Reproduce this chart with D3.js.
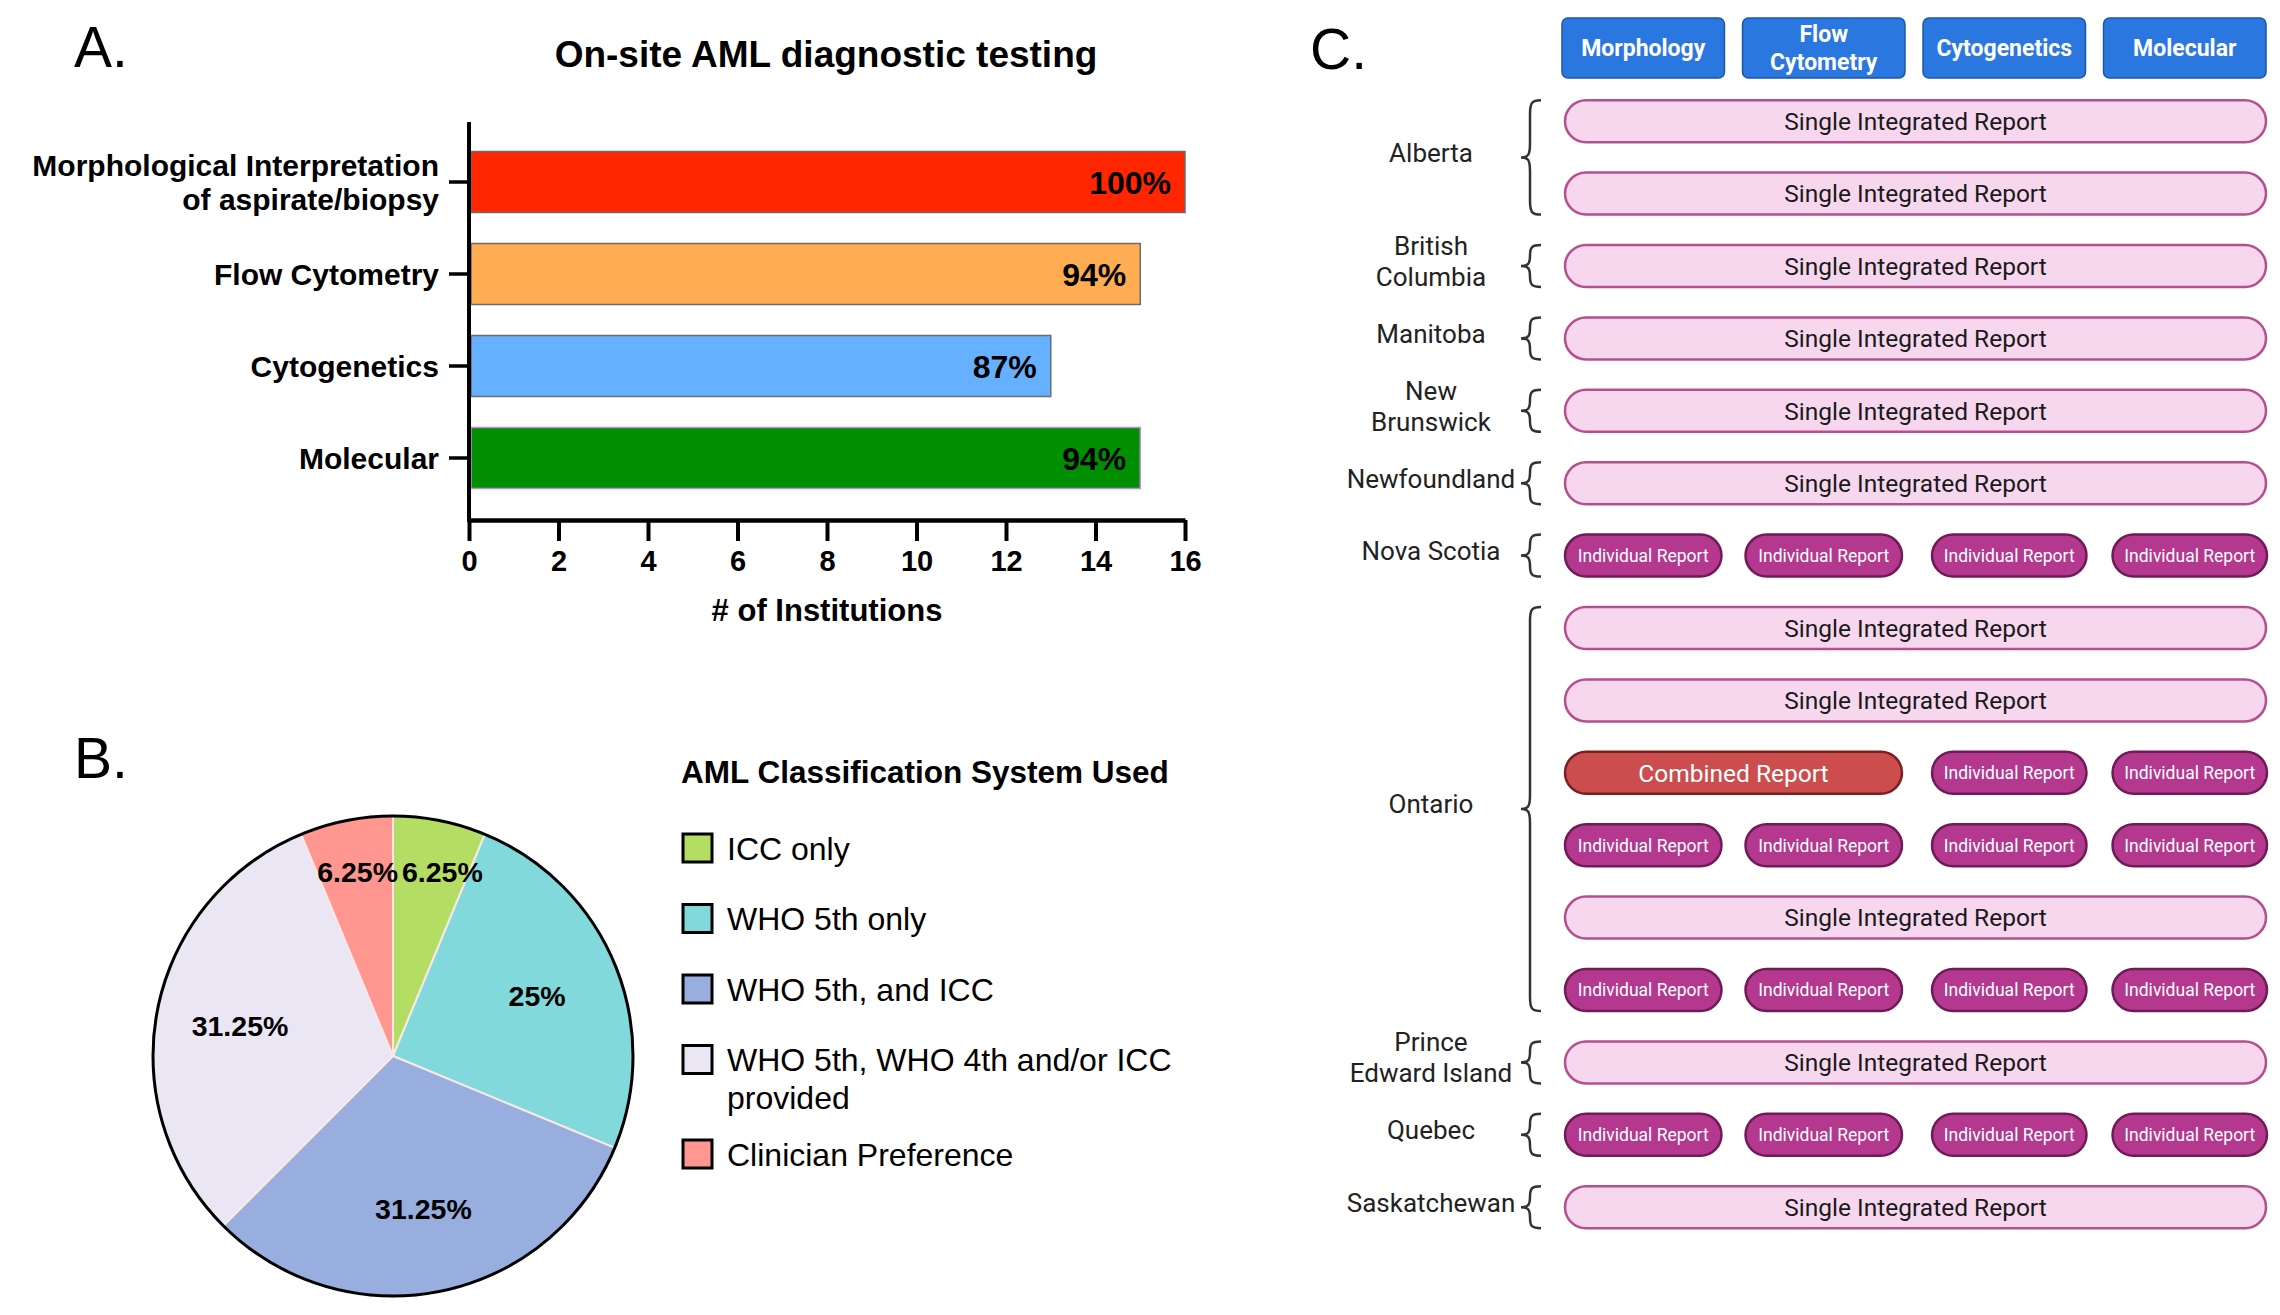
<!DOCTYPE html>
<html>
<head>
<meta charset="utf-8">
<script src="https://cdn.jsdelivr.net/npm/d3@7"></script>
<style>
  body { margin: 0; background: #fff; }
  svg { display: block; }
</style>
</head>
<body>
<div id="figure"></div>
<script>
// Panel A data
const categories = [
  "Morphological Interpretation\nof aspirate/biopsy",
  "Flow Cytometry",
  "Cytogenetics",
  "Molecular",
];
const institutions = [16, 15, 13, 15];
const pctLabels = ["100%", "94%", "87%", "94%"];
const xTicks = [0, 2, 4, 6, 8, 10, 12, 14, 16];

// Panel B data
const classes = [
  "ICC only",
  "WHO 5th only",
  "WHO 5th, and ICC",
  "WHO 5th, WHO 4th and/or ICC\nprovided",
  "Clinician Preference",
];
const classShares = [6.25, 25, 31.25, 31.25, 6.25];

// Panel C data
const labTests = ["Morphology", "Flow\nCytometry", "Cytogenetics", "Molecular"];
const provinces = [
  "Alberta",
  "British\nColumbia",
  "Manitoba",
  "New\nBrunswick",
  "Newfoundland",
  "Nova Scotia",
  "Ontario",
  "Prince\nEdward Island",
  "Quebec",
  "Saskatchewan",
];
const provinceReports = [
  ["single", "single"],
  ["single"],
  ["single"],
  ["single"],
  ["single"],
  ["individual"],
  ["single", "single", "combined", "individual", "single", "individual"],
  ["single"],
  ["individual"],
  ["single"],
];

// Colours
const BAR_COLORS = ["#FF2600", "#FFAC52", "#66B1FF", "#008F00"];
const BAR_STROKES = ["#6b6b6b", "#6b6b6b", "#6b6b6b", "#c08bda"];
const PIE_COLORS = ["#B4DD63", "#82D9DB", "#98AEDE", "#EAE6F3", "#FF968F"];

const WIDTH = 2280;
const HEIGHT = 1315;
const SANS = "'Liberation Sans', Arial, Helvetica, sans-serif";
const ROBOTO = "Roboto, 'Noto Sans', sans-serif";

const svg = d3
  .select("#figure")
  .append("svg")
  .attr("width", WIDTH)
  .attr("height", HEIGHT)
  .style("background", "#fff");

// writes multi-line text, lines split on \n, centred on cy (cap centre)
function multiText(g, str, x, cy, size, lineH, anchor) {
  const lines = str.split("\n");
  const t = g
    .append("text")
    .attr("text-anchor", anchor)
    .attr("font-size", size);
  const first = cy - ((lines.length - 1) * lineH) / 2 + 0.36 * size;
  lines.forEach((l, i) => {
    t.append("tspan")
      .attr("x", x)
      .attr("y", first + i * lineH)
      .text(l);
  });
  return t;
}

// Panel letters
[
  ["A.", 74, 67],
  ["B.", 74, 778],
  ["C.", 1310, 69],
].forEach(([s, x, y]) => {
  svg
    .append("text")
    .attr("x", x)
    .attr("y", y)
    .attr("font-family", SANS)
    .attr("font-size", 57)
    .attr("fill", "#000")
    .text(s);
});

/* ---------- Panel A: bar chart ---------- */
const gA = svg.append("g").attr("font-family", SANS);

const x = d3.scaleLinear().domain([0, 16]).range([469, 1185]);
const y = d3
  .scaleBand()
  .domain(categories)
  .range([136, 504])
  .paddingInner(0.337)
  .paddingOuter(0.1685);

gA.append("text")
  .attr("x", 826)
  .attr("y", 67)
  .attr("text-anchor", "middle")
  .attr("font-size", 37)
  .attr("font-weight", "bold")
  .text("On-site AML diagnostic testing");

gA.selectAll(".bar")
  .data(categories)
  .enter()
  .append("rect")
  .attr("class", "bar")
  .attr("x", x(0) + 2)
  .attr("y", (d) => y(d))
  .attr("width", (d, i) => x(institutions[i]) - x(0) - 2)
  .attr("height", y.bandwidth())
  .attr("fill", (d, i) => BAR_COLORS[i])
  .attr("stroke", (d, i) => BAR_STROKES[i])
  .attr("stroke-width", 1.5);

gA.selectAll(".pct")
  .data(categories)
  .enter()
  .append("text")
  .attr("class", "pct")
  .attr("x", (d, i) => x(institutions[i]) - 14)
  .attr("y", (d) => y(d) + y.bandwidth() / 2 + 11.5)
  .attr("text-anchor", "end")
  .attr("font-size", 32)
  .attr("font-weight", "bold")
  .text((d, i) => pctLabels[i]);

// y axis (ticks only, line drawn by hand so it runs past the bands)
const yAxis = gA
  .append("g")
  .attr("transform", "translate(" + x(0) + ",0)")
  .call(d3.axisLeft(y).tickSize(20).tickSizeOuter(0).tickFormat(""));
yAxis.select(".domain").remove();
yAxis.selectAll(".tick line").attr("stroke", "#000").attr("stroke-width", 3.5);

gA.append("line")
  .attr("x1", x(0))
  .attr("x2", x(0))
  .attr("y1", 122)
  .attr("y2", 522)
  .attr("stroke", "#000")
  .attr("stroke-width", 4);

categories.forEach((c) => {
  multiText(gA, c, 439, y(c) + y.bandwidth() / 2, 30, 34, "end").attr(
    "font-weight",
    "bold"
  );
});

// x axis
const xAxis = gA
  .append("g")
  .attr("transform", "translate(0,520)")
  .call(d3.axisBottom(x).tickValues(xTicks).tickSize(21).tickSizeOuter(0));
xAxis.select(".domain").attr("stroke", "#000").attr("stroke-width", 4.5);
xAxis.selectAll(".tick line").attr("stroke", "#000").attr("stroke-width", 4);
xAxis
  .selectAll(".tick text")
  .attr("y", 51)
  .attr("dy", "0")
  .attr("font-family", SANS)
  .attr("font-size", 29)
  .attr("font-weight", "bold")
  .attr("fill", "#000");

gA.append("text")
  .attr("x", x(8))
  .attr("y", 621)
  .attr("text-anchor", "middle")
  .attr("font-size", 31)
  .attr("font-weight", "bold")
  .text("# of Institutions");

/* ---------- Panel B: pie chart ---------- */
const gB = svg.append("g").attr("font-family", SANS);
const R = 240;
const cx = 393;
const cy = 1056;

const pie = d3.pie().sort(null).value((d) => d);
const arcs = pie(classShares);
const arc = d3.arc().innerRadius(0).outerRadius(R);
const labelArc = d3.arc().innerRadius(R * 0.65).outerRadius(R * 0.65);
const smallArc = d3.arc().innerRadius(R * 0.78).outerRadius(R * 0.78);

const gPie = gB.append("g").attr("transform", "translate(" + cx + "," + cy + ")");

gPie
  .selectAll(".slice")
  .data(arcs)
  .enter()
  .append("path")
  .attr("class", "slice")
  .attr("d", arc)
  .attr("fill", (d, i) => PIE_COLORS[i])
  .attr("stroke", "#fbe8e6")
  .attr("stroke-width", 2);

gPie
  .append("circle")
  .attr("r", R)
  .attr("fill", "none")
  .attr("stroke", "#000")
  .attr("stroke-width", 3);

gPie
  .selectAll(".plabel")
  .data(arcs)
  .enter()
  .append("text")
  .attr("class", "plabel")
  .each(function (d) {
    const small = d.data < 10;
    const c = small ? smallArc.centroid(d) : labelArc.centroid(d);
    const t = d3.select(this);
    if (small) {
      // thin wedges: push the two labels apart around the vertical
      const right = c[0] > 0;
      t.attr("x", right ? 9 : 5).attr("text-anchor", right ? "start" : "end");
    } else {
      t.attr("x", c[0]).attr("text-anchor", "middle");
    }
    t.attr("y", c[1] + 10);
  })
  .attr("font-size", 28.5)
  .attr("font-weight", "bold")
  .text((d) => d.data + "%");

// legend
gB.append("text")
  .attr("x", 681)
  .attr("y", 783)
  .attr("font-size", 31.5)
  .attr("font-weight", "bold")
  .text("AML Classification System Used");

let legY = 848;
classes.forEach((c, i) => {
  const g = gB.append("g");
  g.append("rect")
    .attr("x", 683)
    .attr("y", legY - 14)
    .attr("width", 29)
    .attr("height", 28)
    .attr("fill", PIE_COLORS[i])
    .attr("stroke", "#000")
    .attr("stroke-width", 3);
  const n = c.split("\n").length;
  multiText(g, c, 727, legY + ((n - 1) * 38) / 2, 32, 38, "start");
  legY += 70.5 + (n - 1) * 24;
});

/* ---------- Panel C: report layout ---------- */
const gC = svg.append("g").attr("font-family", ROBOTO);

const col = d3
  .scaleBand()
  .domain(d3.range(labTests.length))
  .range([1562, 2266])
  .paddingInner(0.1);

const rows = provinces.flatMap((p, i) =>
  provinceReports[i].map((type) => ({ province: p, type: type }))
);
const row = d3
  .scaleBand()
  .domain(d3.range(rows.length))
  .range([85, 1243.4])
  .paddingInner(0.42)
  .paddingOuter(0.21);

// header boxes
labTests.forEach((t, i) => {
  gC.append("rect")
    .attr("x", col(i))
    .attr("y", 18)
    .attr("width", col.bandwidth())
    .attr("height", 60)
    .attr("rx", 6)
    .attr("fill", "#2A77E0")
    .attr("stroke", "#1b56a8")
    .attr("stroke-width", 1.5);
  multiText(gC, t, col(i) + col.bandwidth() / 2, 48, 23, 28, "middle")
    .attr("fill", "#fff")
    .attr("font-weight", "bold");
});

const PILL = {
  single: { fill: "#F7D7EE", stroke: "#B5508F", text: "#1a1a1a", size: 24.5, label: "Single Integrated Report" },
  individual: { fill: "#B3388E", stroke: "#701a58", text: "#fff", size: 17.5, label: "Individual Report" },
  combined: { fill: "#CB4D4D", stroke: "#7a1f1f", text: "#fff", size: 24.5, label: "Combined Report" },
};

function pill(x0, x1, y0, kind) {
  const s = PILL[kind];
  const h = row.bandwidth();
  gC.append("rect")
    .attr("x", x0)
    .attr("y", y0)
    .attr("width", x1 - x0)
    .attr("height", h)
    .attr("rx", h / 2)
    .attr("fill", s.fill)
    .attr("stroke", s.stroke)
    .attr("stroke-width", 2.5);
  gC.append("text")
    .attr("x", (x0 + x1) / 2)
    .attr("y", y0 + h / 2 + 0.36 * s.size)
    .attr("text-anchor", "middle")
    .attr("font-size", s.size)
    .attr("fill", s.text)
    .text(s.label);
}

rows.forEach((r, i) => {
  const y0 = row(i);
  const inset = 3;
  if (r.type === "single") {
    pill(col(0) + 3, col(3) + col.bandwidth(), y0, "single");
  } else {
    const first = r.type === "combined" ? 2 : 0;
    if (r.type === "combined")
      pill(col(0) + inset, col(1) + col.bandwidth() - inset, y0, "combined");
    for (let c = first; c < labTests.length; c++)
      pill(col(c) + inset + (c > 1 ? 6 : 0), col(c) + col.bandwidth() - inset + (c > 1 ? 4 : 0), y0, "individual");
  }
});

// curly brace on the left of each province group
function bracePath(y0, y1) {
  const xa = 1541;
  const xv = 1530;
  const xt = 1521;
  const ym = (y0 + y1) / 2;
  const c = Math.min(14, (y1 - y0) / 4);
  return (
    "M" + xa + "," + y0 +
    " C" + (xv + 2) + "," + y0 + " " + xv + "," + (y0 + 2) + " " + xv + "," + (y0 + c) +
    " L" + xv + "," + (ym - c) +
    " C" + xv + "," + (ym - 2) + " " + (xv - 2) + "," + ym + " " + xt + "," + ym +
    " C" + (xv - 2) + "," + ym + " " + xv + "," + (ym + 2) + " " + xv + "," + (ym + c) +
    " L" + xv + "," + (y1 - c) +
    " C" + xv + "," + (y1 - 2) + " " + (xv + 2) + "," + y1 + " " + xa + "," + y1
  );
}

let start = 0;
provinces.forEach((p, i) => {
  const n = provinceReports[i].length;
  const top = row(start);
  const bot = row(start + n - 1) + row.bandwidth();
  gC.append("path")
    .attr("d", bracePath(top, bot))
    .attr("fill", "none")
    .attr("stroke", "#333")
    .attr("stroke-width", 2.5);
  multiText(gC, p, 1431, (top + bot) / 2 - 5, 26, 31, "middle").attr(
    "fill",
    "#222"
  );
  start += n;
});
</script>
</body>
</html>
